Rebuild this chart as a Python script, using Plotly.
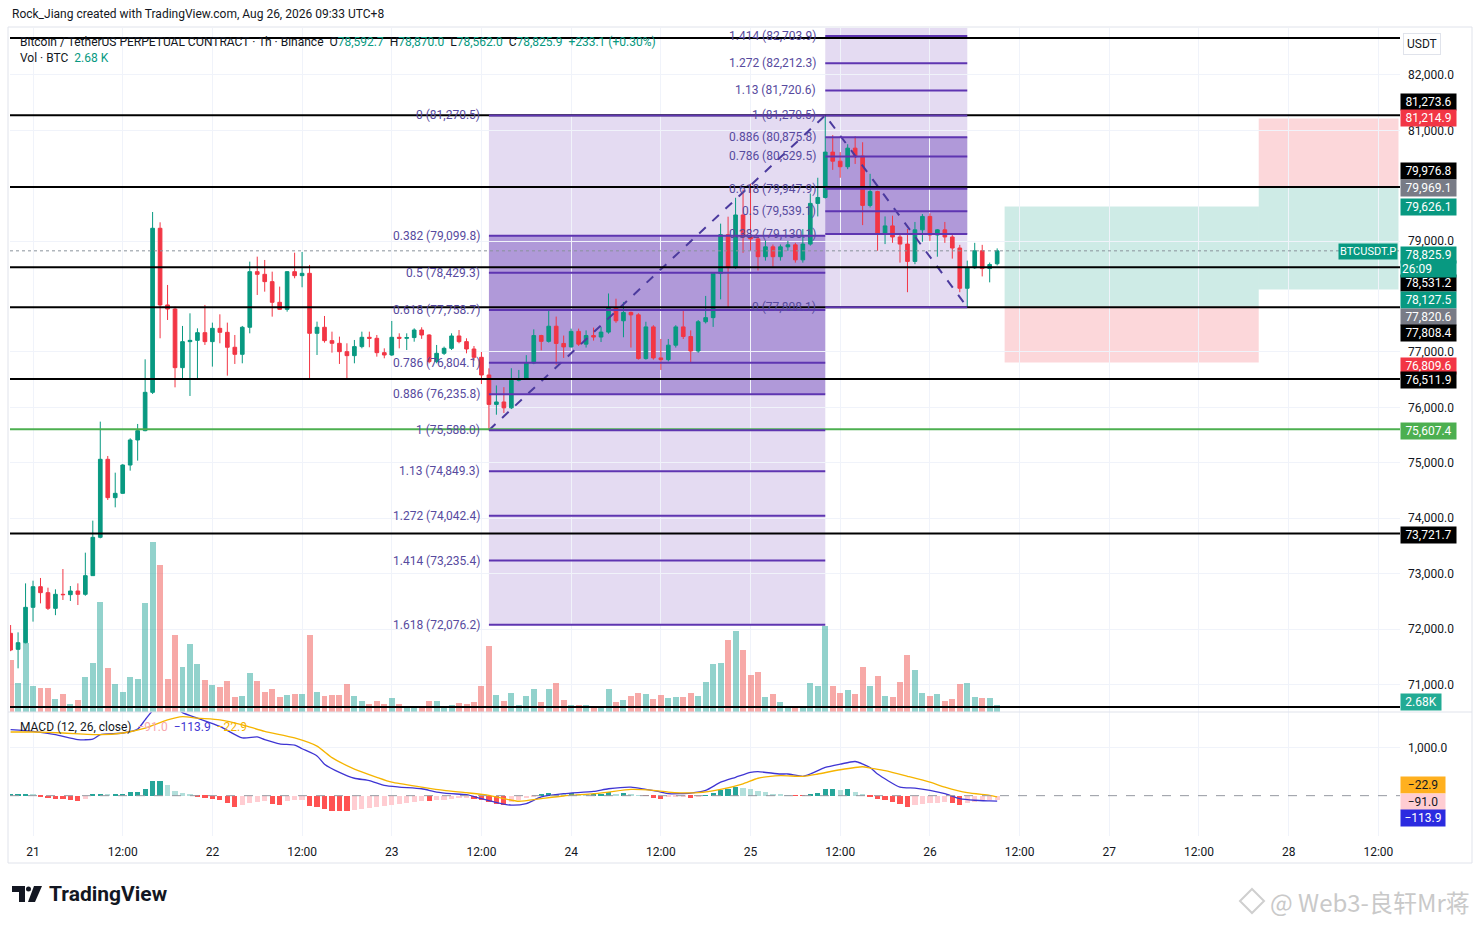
"""BTCUSDT.P 1h chart in TradingView style: fib levels, position boxes, volume and MACD."""

import pandas as pd
import plotly.graph_objects as go

W, H = 1481, 925

# ---- hourly candles (UTC+8), 20 Aug 21:00 -> 26 Aug 09:00 ----
candle_start = "2026-08-20 21:00"
opens = [
    71922, 71633, 71753, 72391,
    72764, 72656, 72373, 72626, 72620, 72686, 72626, 72963,
    73655, 75063, 74371, 74449, 74960, 75412, 75580, 76272,
    79233, 77849, 77776, 76717, 77187, 77210, 77349, 77187,
    77427, 77355, 77085, 76958, 77446, 78450, 78402, 78270,
    77897, 77770, 78450, 78378, 78420, 77337, 77446, 77205,
    77157, 77006, 76934, 77097, 77265, 77247, 76988, 76946,
    77265, 77247, 77260, 77397, 77307, 76826, 76976, 77066,
    77289, 77187, 77054, 76904, 76585, 76054, 76098, 75992,
    76489, 76520, 76800, 77297, 77192, 77465, 77154, 77092,
    77372, 77142, 77297, 77270, 77359, 77795, 77564, 77714,
    77670, 76881, 77453, 76893, 76862, 77123, 77453, 77279,
    77018, 77546, 77620, 78416, 79118, 78522, 79473, 79076,
    79041, 78720, 78898, 78720, 78898, 78934, 78663, 78948,
    79682, 79789, 80608, 80444, 80344, 80679, 80537, 79646,
    79896, 79133, 79276, 79076, 78948, 78635, 79205, 79447,
    79112, 79205, 79076, 78877, 78150, 78520, 78827, 78506, 78592.7,
]
highs = [
    72072, 71940, 72824, 72872,
    72921, 72746, 72716, 73083, 72776, 72824, 73378, 73956,
    75743, 75123, 74822, 74975, 75442, 75701, 76868, 79527,
    79341, 78210, 77819, 77470, 77698, 77427, 77849, 77530,
    77680, 77530, 77307, 77470, 78631, 78721, 78661, 78450,
    78180, 78460, 78793, 78805, 78571, 77548, 77650, 77367,
    77277, 77157, 77217, 77367, 77367, 77307, 77066, 77560,
    77337, 77337, 77427, 77446, 77320, 77127, 77097, 77337,
    77397, 77247, 77108, 77000, 76705, 76396, 76365, 76707,
    76676, 76943, 77409, 77310, 77745, 77639, 77297, 77422,
    77422, 77390, 77440, 77453, 78056, 77962, 77900, 77730,
    77700, 77546, 77484, 77235, 77235, 77484, 77763, 77390,
    77577, 78012, 78430, 79317, 79442, 79784, 79931, 80038,
    79110, 79006, 78940, 78940, 79006, 78970, 79219, 79860,
    80145, 81270.5, 80914, 80608, 80750, 80893, 80786, 80216,
    79910, 79447, 79460, 79140, 79219, 79347, 79490, 79504,
    79220, 79347, 79110, 78934, 78649, 78970, 78934, 78614, 78870,
]
lows = [
    71600, 71290, 71740, 72133,
    72463, 72343, 72250, 72524, 72506, 72433, 72600, 72963,
    73637, 74329, 74196, 74440, 74858, 75039, 75570, 76242,
    77247, 77578, 76362, 76495, 76206, 76495, 77127, 76736,
    77157, 76573, 76784, 76796, 77337, 78029, 78089, 77638,
    77760, 77728, 78330, 78168, 76495, 76946, 77169, 76988,
    76784, 76495, 76796, 77066, 77085, 76916, 76886, 76930,
    77066, 77036, 77186, 77237, 76796, 76796, 76946, 77036,
    77157, 76976, 76844, 76423, 75588, 75868, 75899, 75970,
    76470, 76500, 76780, 77030, 77170, 76769, 76893, 77080,
    77110, 77080, 77205, 77180, 77330, 77527, 77266, 77080,
    76862, 76862, 76862, 76676, 76830, 77080, 77235, 76800,
    76987, 77515, 77453, 77950, 77795, 78500, 78791, 78827,
    78471, 78649, 78542, 78650, 78827, 78613, 78613, 78920,
    79447, 79770, 80287, 80145, 80300, 80394, 79290, 79610,
    78827, 78948, 78970, 78613, 78079, 78585, 78990, 79005,
    78720, 78970, 78685, 78079, 77808.1, 78500, 78364, 78257, 78562,
]
closes = [
    71621, 71753, 72391, 72764,
    72656, 72373, 72626, 72620, 72686, 72626, 72963, 73655,
    75063, 74371, 74449, 74960, 75412, 75580, 76272, 79233,
    77849, 77776, 76717, 77187, 77210, 77349, 77187, 77427,
    77355, 77085, 76958, 77446, 78450, 78402, 78270, 77897,
    77770, 78450, 78378, 78420, 77337, 77446, 77205, 77157,
    77006, 76934, 77097, 77265, 77247, 76988, 76946, 77265,
    77247, 77260, 77397, 77307, 76826, 76976, 77066, 77289,
    77187, 77054, 76904, 76585, 76054, 76098, 75992, 76489,
    76520, 76800, 77297, 77192, 77465, 77154, 77092, 77372,
    77142, 77297, 77270, 77359, 77795, 77564, 77714, 77670,
    76881, 77453, 76893, 76862, 77123, 77453, 77279, 77018,
    77546, 77620, 78416, 79118, 78522, 79473, 79076, 79041,
    78720, 78898, 78720, 78898, 78934, 78663, 78948, 79682,
    79789, 80608, 80444, 80344, 80679, 80537, 79646, 79896,
    79133, 79276, 79076, 78948, 78635, 79205, 79447, 79112,
    79205, 79076, 78877, 78150, 78520, 78827, 78506, 78578, 78825.9,
]
# volume, thousands of BTC
volumes = [
    20.0, 11.1, 26.4, 9.8,
    9.2, 9.2, 4.9, 6.9, 3.0, 4.6, 13.4, 18.7,
    42.1, 16.8, 10.7, 7.6, 13.4, 12.5, 41.7, 65.1,
    56.4, 12.5, 29.6, 17.2, 26.0, 18.4, 12.1, 10.2,
    9.4, 11.7, 5.6, 6.3, 15.1, 12.0, 7.5, 8.9,
    5.6, 6.6, 7.0, 7.0, 29.6, 7.6, 6.0, 6.6,
    6.6, 10.8, 6.0, 4.3, 3.2, 4.3, 3.2, 5.3,
    3.2, 2.1, 2.4, 2.4, 4.3, 4.3, 2.4, 2.8,
    3.4, 3.2, 3.8, 9.8, 25.1, 6.5, 4.4, 7.4,
    2.8, 6.1, 9.0, 3.7, 8.8, 11.3, 4.5, 2.5,
    2.5, 2.5, 1.9, 1.9, 8.8, 3.7, 4.5, 6.1,
    7.2, 6.8, 5.1, 6.4, 5.5, 5.8, 5.8, 7.4,
    6.1, 11.4, 18.2, 18.6, 27.5, 30.9, 23.7, 14.3,
    15.5, 5.6, 6.8, 3.8, 2.3, 2.3, 2.3, 11.0,
    9.8, 32.8, 10.1, 7.2, 8.3, 6.8, 17.4, 9.8,
    13.6, 6.3, 5.6, 11.6, 21.9, 15.9, 7.1, 6.0,
    6.8, 4.1, 5.0, 10.6, 11.3, 5.6, 5.3, 5.3, 2.68,
]

# ---- MACD (12, 26, close) ----
macd_hist = [
    20, 40, 40, 15,
    -30, -48, -61, -75, -95, -109, -61, 41,
    41, 20, 20, 35, 75, 82, 129, 313,
    313, 225, 95, 54, 14, -14, -41, -61,
    -95, -150, -238, -200, -160, -140, -110, -180,
    -200, -120, -100, -80, -210, -240, -280, -320,
    -320, -320, -300, -275, -250, -230, -210, -190,
    -170, -150, -130, -110, -120, -100, -80, -65,
    -50, -40, -60, -100, -130, -180, -200, -130,
    -80, -50, -20, 41, 60, 41, 20, 60,
    30, 20, 20, 20, 75, 40, 60, 40,
    10, -5, -40, -60, -30, -15, -10, -40,
    -10, 5, 60, 110, 140, 190, 160, 130,
    100, 70, 40, 20, 5, -3, -5, 20,
    50, 130, 135, 110, 130, 70, 20, -20,
    -60, -100, -140, -180, -230, -190, -170, -160,
    -150, -140, -150, -200, -150, -130, -110, -100, -91.0,
]
# hours after 21 Aug 00:00
macd_hours = [-3, 0, 3, 6, 8, 9, 12, 14, 15, 16, 18, 20, 22, 25, 28, 30, 31, 33, 35, 36,
              38, 39, 41, 43, 45, 47, 49, 52, 54, 56, 58, 60, 62, 64, 66, 68, 71, 75, 77, 80,
              82, 84, 85, 88, 90, 92, 94, 96, 97, 100, 101, 103, 104, 106, 108, 110, 112, 113,
              116, 118, 120, 122, 124, 126, 128, 129]
macd_line = [1367, 1332, 1265, 1163, 1170, 1265, 1299, 1380, 1571, 1760, 1950, 1720, 1605, 1435,
             1197, 1218, 1163, 1075, 1048, 973, 823, 653, 483, 361, 313, 211, 177, 143, 75, 41,
             20, -61, -140, -197, -163, -27, 41, 88, 143, 177, 129, 75, 41, 54, 109, 279, 381,
             483, 497, 449, 449, 401, 449, 585, 653, 708, 585, 449, 177, 156, 109, 41, -61, -95,
             -109, -113.9]
signal_hours = [-3, 0, 4, 9, 12, 15, 18, 20, 22, 25, 28, 31, 35, 38, 40, 43, 46, 48, 52, 55,
                58, 61, 63, 65, 68, 71, 75, 77, 80, 83, 85, 89, 92, 95, 97, 100, 103, 105, 108,
                111, 112, 114, 117, 120, 122, 125, 128, 129]
signal_line = [1319, 1319, 1299, 1265, 1299, 1401, 1571, 1638, 1605, 1571, 1469, 1332, 1197,
               1026, 789, 551, 381, 279, 177, 108, 61, 7, -61, -116, -61, -7, 41, 75, 129, 109,
               75, 61, 129, 245, 361, 415, 401, 449, 537, 599, 571, 517, 401, 279, 177, 61, 7,
               -22.9]

# ---- drawings ----
fib1_hours = [61, 106]
fib1_ratios = [0, 0.382, 0.5, 0.618, 0.786, 0.886, 1, 1.13, 1.272, 1.414, 1.618]
fib1_prices = [81270.5, 79099.8, 78429.3, 77758.7, 76804.1, 76235.8, 75588.0,
               74849.3, 74042.4, 73235.4, 72076.2]
fib2_hours = [106, 125]
fib2_ratios = [0, 0.382, 0.5, 0.618, 0.786, 0.886, 1, 1.13, 1.272, 1.414]
fib2_prices = [77808.1, 79130.1, 79539.1, 79947.9, 80529.5, 80875.8, 81270.5,
               81720.6, 82212.3, 82703.9]
fib2_top = 83410.2
zigzag_hours = [61, 106, 125]
zigzag_prices = [75588.0, 81270.5, 77808.1]

black_levels = [82668, 81273.6, 79976.8, 78531.2, 77808.4, 76511.9, 73721.7, 70592]
green_level = 75607.4
last_price = 78825.9

# long then short position tool: start/end hours, entry, target, stop
pos_start = [130, 164]
pos_end = [164, 182.7]
pos_entry = [77820.6, 79969.1]
pos_target = [79626.1, 78127.5]
pos_stop = [76809.6, 81214.9]

tick_labels = ["21", "12:00", "22", "12:00", "23", "12:00", "24", "12:00",
               "25", "12:00", "26", "12:00", "27", "12:00", "28", "12:00"]
# 78,000 and 80,000 sit under the price tags in the original
price_ticks = [71000, 72000, 73000, 74000, 75000, 76000, 77000, 79000, 81000, 82000]

# price scale tags: text, value, background, shift (px, + = up)
tag_text = ["81,273.6", "81,214.9", "79,976.8", "79,969.1", "79,626.1",
            "78,531.2", "78,127.5", "77,820.6", "77,808.4", "76,809.6",
            "76,511.9", "75,607.4", "73,721.7"]
tag_value = [81273.6, 81214.9, 79976.8, 79969.1, 79626.1, 78531.2, 78127.5,
             77820.6, 77808.4, 76809.6, 76511.9, 75607.4, 73721.7]
tag_bg = ["#000000", "#F23645", "#000000", "#787B86", "#089981", "#000000", "#089981",
          "#787B86", "#000000", "#F23645", "#000000", "#4CAF50", "#000000"]
tag_shift = [13, 0, 16, 0, 0, -16, -10, -10, -26, -3, -1, -2, -1]

UP, DOWN = "#089981", "#F23645"
GRID = "#F0F3FA"
PURPLE = "#5E35B1"
FIB_TXT = "#574A9E"
FONT = "Roboto, Liberation Sans, sans-serif"

T0 = pd.Timestamp("2026-08-21 00:00")


def at(h):
    return (T0 + pd.Timedelta(hours=h)).strftime("%Y-%m-%d %H:%M:%S")


def px(x):
    return x / W


def py(y):
    return 1 - y / H


times = pd.date_range(candle_start, periods=len(opens), freq="h")
tick_times = pd.date_range("2026-08-21", periods=len(tick_labels), freq="12h")
x_range = [at(-3.08), at(182.9)]
x_dom = [px(10), px(1400)]

fig = go.Figure()

fig.add_trace(go.Candlestick(
    x=times, open=opens, high=highs, low=lows, close=closes,
    increasing=dict(line=dict(color=UP, width=1), fillcolor=UP),
    decreasing=dict(line=dict(color=DOWN, width=1), fillcolor=DOWN),
    whiskerwidth=0, hoverinfo="skip", xaxis="x", yaxis="y",
))
fig.add_trace(go.Scatter(
    x=[at(h) for h in zigzag_hours], y=zigzag_prices, mode="lines",
    line=dict(color="#4B3A9E", width=2, dash="dash"), hoverinfo="skip",
    xaxis="x", yaxis="y",
))
vol_colors = ["rgba(38,166,154,0.5)" if c >= o else "rgba(239,83,80,0.5)"
              for o, c in zip(opens, closes)]
fig.add_trace(go.Bar(
    x=times, y=volumes, width=3600000 * 0.8,
    marker=dict(color=vol_colors, line=dict(width=0)),
    hoverinfo="skip", xaxis="x", yaxis="y3",
))

# MACD histogram colours follow TradingView's rising/falling rule
hist_colors = []
for i, v in enumerate(macd_hist):
    prev = macd_hist[i - 1] if i else v
    if v >= 0:
        hist_colors.append("#26A69A" if v >= prev else "#B2DFDB")
    else:
        hist_colors.append("#FF5252" if v <= prev else "#FFCDD2")
fig.add_trace(go.Bar(
    x=times, y=macd_hist, width=3600000 * 0.7,
    marker=dict(color=hist_colors, line=dict(width=0)),
    hoverinfo="skip", xaxis="x2", yaxis="y2",
))
fig.add_trace(go.Scatter(
    x=[at(h) for h in macd_hours], y=macd_line, mode="lines",
    line=dict(color="#3F35D3", width=1.3, shape="spline", smoothing=0.6),
    hoverinfo="skip", xaxis="x2", yaxis="y2",
))
fig.add_trace(go.Scatter(
    x=[at(h) for h in signal_hours], y=signal_line, mode="lines",
    line=dict(color="#F5B400", width=1.3, shape="spline", smoothing=0.6),
    hoverinfo="skip", xaxis="x2", yaxis="y2",
))

shapes = []
# fib fills
shapes.append(dict(type="rect", xref="x", yref="y", layer="below",
                   x0=at(fib1_hours[0]), x1=at(fib1_hours[1]),
                   y0=min(fib1_prices), y1=max(fib1_prices),
                   fillcolor="rgba(103,58,183,0.18)", line=dict(width=0)))
shapes.append(dict(type="rect", xref="x", yref="y", layer="below",
                   x0=at(fib1_hours[0]), x1=at(fib1_hours[1]),
                   y0=fib1_prices[5], y1=fib1_prices[1],
                   fillcolor="rgba(103,58,183,0.41)", line=dict(width=0)))
shapes.append(dict(type="rect", xref="x", yref="y", layer="below",
                   x0=at(fib2_hours[0]), x1=at(fib2_hours[1]),
                   y0=fib2_prices[0], y1=fib2_top,
                   fillcolor="rgba(103,58,183,0.18)", line=dict(width=0)))
shapes.append(dict(type="rect", xref="x", yref="y", layer="below",
                   x0=at(fib2_hours[0]), x1=at(fib2_hours[1]),
                   y0=fib2_prices[1], y1=fib2_prices[5],
                   fillcolor="rgba(103,58,183,0.41)", line=dict(width=0)))
# position boxes
for s, e, en, tg, st in zip(pos_start, pos_end, pos_entry, pos_target, pos_stop):
    shapes.append(dict(type="rect", xref="x", yref="y", layer="below",
                       x0=at(s), x1=at(e), y0=en, y1=tg,
                       fillcolor="rgba(8,153,129,0.2)", line=dict(width=0)))
    shapes.append(dict(type="rect", xref="x", yref="y", layer="below",
                       x0=at(s), x1=at(e), y0=en, y1=st,
                       fillcolor="rgba(242,54,69,0.2)", line=dict(width=0)))
# horizontal levels
for lv in black_levels:
    shapes.append(dict(type="line", xref="paper", yref="y", x0=px(10), x1=px(1400),
                       y0=lv, y1=lv, line=dict(color="#000000", width=2)))
shapes.append(dict(type="line", xref="paper", yref="y", x0=px(10), x1=px(1400),
                   y0=green_level, y1=green_level, line=dict(color="#4CAF50", width=2)))
shapes.append(dict(type="line", xref="paper", yref="y", x0=px(10), x1=px(1400),
                   y0=last_price, y1=last_price, line=dict(color="#8A939B", width=1, dash="dot")))
# fib level lines
for p in fib1_prices:
    shapes.append(dict(type="line", xref="x", yref="y", x0=at(fib1_hours[0]),
                       x1=at(fib1_hours[1]), y0=p, y1=p, line=dict(color=PURPLE, width=2)))
for p in fib2_prices:
    shapes.append(dict(type="line", xref="x", yref="y", x0=at(fib2_hours[0]),
                       x1=at(fib2_hours[1]), y0=p, y1=p, line=dict(color=PURPLE, width=2)))
# MACD zero line, pane separator and frame
shapes.append(dict(type="line", xref="paper", yref="y2", x0=px(10), x1=px(1400), y0=0, y1=0,
                   line=dict(color="#9598A1", width=1, dash="dash")))
shapes.append(dict(type="line", xref="paper", yref="paper", x0=px(8), x1=px(1472),
                   y0=py(712), y1=py(712), line=dict(color="#E0E3EB", width=1)))
shapes.append(dict(type="rect", xref="paper", yref="paper", x0=px(8), x1=px(1472),
                   y0=py(863), y1=py(27), line=dict(color="#E0E3EB", width=1)))
# TradingView logo
shapes.append(dict(type="path", xref="paper", yref="paper", fillcolor="#131722",
                   line=dict(width=0),
                   path=f"M{px(12)},{py(886)} L{px(25)},{py(886)} L{px(25)},{py(902)} "
                        f"L{px(19)},{py(902)} L{px(19)},{py(892)} L{px(12)},{py(892)} Z"))
shapes.append(dict(type="circle", xref="paper", yref="paper", fillcolor="#131722",
                   line=dict(width=0), x0=px(26), x1=px(31), y0=py(891.5), y1=py(886.5)))
shapes.append(dict(type="path", xref="paper", yref="paper", fillcolor="#131722",
                   line=dict(width=0),
                   path=f"M{px(34)},{py(886)} L{px(42)},{py(886)} L{px(35)},{py(902)} "
                        f"L{px(28)},{py(902)} Z"))
# watermark diamond
shapes.append(dict(type="path", xref="paper", yref="paper", line=dict(color="#CFCFCF", width=2),
                   path=f"M{px(1252)},{py(889)} L{px(1264)},{py(901)} L{px(1252)},{py(913)} "
                        f"L{px(1240)},{py(901)} Z"))

ann = []


def text(x, y, s, size=12, color="#131722", family=None):
    font = dict(size=size, color=color)
    if family:
        font["family"] = family
    ann.append(dict(xref="paper", yref="paper", x=px(x), y=py(y), text=s, showarrow=False,
                    xanchor="left", yanchor="middle", font=font))


g = "<span style='color:#089981'>"
text(10, 14, "Rock_Jiang created with TradingView.com, Aug 26, 2026 09:33 UTC+8")
text(18, 42, f"Bitcoin / TetherUS PERPETUAL CONTRACT · 1h · Binance  "
             f"O{g}{opens[-1]:,.1f}</span>  H{g}{highs[-1]:,.1f}</span>  "
             f"L{g}{lows[-1]:,.1f}</span>  C{g}{closes[-1]:,.1f}</span>  "
             f"{g}+233.1 (+0.30%)</span>")
text(18, 58, f"Vol · BTC  {g}{volumes[-1]:.2f} K</span>")
text(18, 727, "MACD (12, 26, close)  <span style='color:#F7A8B0'>−91.0</span>  "
              "<span style='color:#3F35D3'>−113.9</span>  <span style='color:#F5B400'>−22.9</span>")
text(47, 894, "<b>TradingView</b>", size=21)
text(1268, 901, "@ Web3-良轩Mr蒋", size=24, color="#C9C9C9",
     family="Noto Sans CJK SC, Noto Sans")
ann.append(dict(xref="paper", yref="paper", x=px(1403), y=py(44), text="USDT", showarrow=False,
                xanchor="left", yanchor="middle", bgcolor="white", bordercolor="#E0E3EB",
                borderpad=3, font=dict(size=12, color="#131722")))

# fib labels
for r, p in zip(fib1_ratios, fib1_prices):
    ann.append(dict(xref="x", yref="y", x=at(fib1_hours[0]), y=p, xanchor="right",
                    yanchor="middle", xshift=-7, showarrow=False,
                    text=f"{r:g} ({p:,.1f})", font=dict(size=12, color=FIB_TXT)))
for r, p in zip(fib2_ratios, fib2_prices):
    ann.append(dict(xref="x", yref="y", x=at(fib2_hours[0]), y=p, xanchor="right",
                    yanchor="middle", xshift=-7, showarrow=False,
                    text=f"{r:g} ({p:,.1f})", font=dict(size=12, color=FIB_TXT)))

# price scale tags
for t, v, bg, sh in zip(tag_text, tag_value, tag_bg, tag_shift):
    ann.append(dict(xref="paper", yref="y", x=px(1400), y=v, yshift=sh, xanchor="left",
                    yanchor="middle", showarrow=False, text=t, bgcolor=bg, width=53,
                    borderpad=1, align="center", font=dict(size=12, color="white")))
ann.append(dict(xref="paper", yref="y", x=px(1400), y=last_price, yshift=-4, xanchor="left",
                yanchor="middle", showarrow=False, text=f"{last_price:,.1f}",
                bgcolor=UP, width=53, borderpad=1, align="center",
                font=dict(size=12, color="white")))
ann.append(dict(xref="paper", yref="y", x=px(1400), y=last_price, yshift=-18, xanchor="left",
                yanchor="middle", showarrow=False, text="26:09",
                bgcolor=UP, width=53, borderpad=1, align="left",
                font=dict(size=12, color="white")))
ann.append(dict(xref="paper", yref="y", x=px(1398), y=last_price, yshift=-1, xanchor="right",
                yanchor="middle", showarrow=False, text="BTCUSDT.P", bgcolor=UP,
                borderpad=1, font=dict(size=11, color="white")))
ann.append(dict(xref="paper", yref="y3", x=px(1400), y=volumes[-1], yshift=3, xanchor="left",
                yanchor="middle", showarrow=False, text=f"{volumes[-1]:.2f}K", bgcolor="#22AB94",
                width=38, borderpad=1, font=dict(size=12, color="white")))
macd_tags = [(signal_line[-1], "#FFB01F", "#131722", 12),
             (macd_hist[-1], "#FFCDD2", "#131722", -2),
             (macd_line[-1], "#2B2BE0", "white", -17)]
for v, bg, fg, sh in macd_tags:
    ann.append(dict(xref="paper", yref="y2", x=px(1400), y=v, yshift=sh, xanchor="left",
                    yanchor="middle", showarrow=False, text=f"−{abs(v):.1f}", bgcolor=bg,
                    width=42, borderpad=1, align="center", font=dict(size=12, color=fg)))

fig.update_layout(
    width=W, height=H, margin=dict(l=0, r=0, t=0, b=0),
    paper_bgcolor="white", plot_bgcolor="white", showlegend=False,
    font=dict(family=FONT, size=12, color="#131722"),
    boxgap=0.3, bargap=0,
    xaxis=dict(domain=x_dom, anchor="y", type="date", range=x_range,
               rangeslider=dict(visible=False), showticklabels=False, tickvals=tick_times,
               showgrid=True, gridcolor=GRID, zeroline=False, showline=False),
    xaxis2=dict(domain=x_dom, anchor="y2", type="date", range=x_range, matches="x",
                tickvals=tick_times, ticktext=tick_labels, ticks="", ticklabelstandoff=7,
                tickfont=dict(size=12, color="#131722"),
                showgrid=True, gridcolor=GRID, zeroline=False, showline=False),
    yaxis=dict(domain=[py(712), py(28)], anchor="x", side="right", range=[70502, 82848],
               tickvals=price_ticks, ticktext=[f"{v:,.1f}" for v in price_ticks],
               ticks="", ticklabelstandoff=7, showgrid=True, gridcolor=GRID,
               zeroline=False, showline=False),
    yaxis2=dict(domain=[py(836), py(712)], anchor="x2", side="right", range=[-836, 1734],
                tickvals=[1000], ticktext=["1,000.0"], ticks="", ticklabelstandoff=7,
                showgrid=True, gridcolor=GRID, zeroline=False, showline=False),
    yaxis3=dict(overlaying="y", anchor="x", range=[0, 262], visible=False),
    shapes=shapes, annotations=ann,
)

fig.write_html("out.html", config={"displayModeBar": False},
               post_script="document.body.style.margin='0';")
